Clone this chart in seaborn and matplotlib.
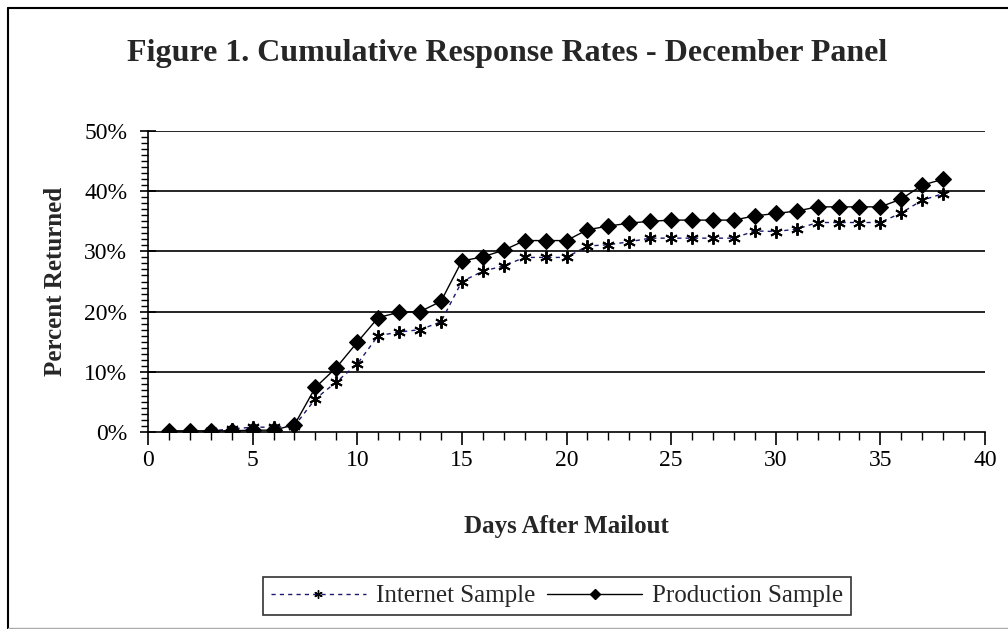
import matplotlib
matplotlib.use("Agg")
import matplotlib.pyplot as plt
import seaborn as sns
from matplotlib.lines import Line2D
from matplotlib.ticker import MultipleLocator, FuncFormatter

days = list(range(1, 39))
internet = [0.0, 0.0, 0.2, 0.5, 0.8, 0.8, 1.0, 5.5, 8.3, 11.3, 16.0, 16.6, 17.0, 18.3,
            25.0, 26.7, 27.6, 29.0, 29.0, 29.0, 30.9, 31.1, 31.6, 32.2, 32.2, 32.2, 32.2, 32.2,
            33.4, 33.3, 33.7, 34.8, 34.8, 34.8, 34.8, 36.4, 38.5, 39.6]
production = [0.2, 0.2, 0.2, 0.2, 0.3, 0.3, 1.2, 7.4, 10.7, 14.9, 19.0, 19.9, 20.0, 21.7,
              28.4, 29.1, 30.2, 31.8, 31.8, 31.8, 33.6, 34.2, 34.7, 35.0, 35.2, 35.2, 35.2, 35.2,
              35.9, 36.3, 36.7, 37.4, 37.4, 37.4, 37.4, 38.7, 41.0, 42.0]

title = "Figure 1. Cumulative Response Rates - December Panel"
xlabel = "Days After Mailout"
ylabel = "Percent Returned"
names = ["Internet Sample", "Production Sample"]

sns.set_style("white")
plt.rcParams["font.family"] = ["Liberation Serif", "DejaVu Serif"]

fig = plt.figure(figsize=(10.08, 6.29), dpi=100)
ax = fig.add_axes([148/1008, 1-432/629, (985-148)/1008, (432-131)/629])

sns.lineplot(x=days, y=internet, ax=ax, color="#1a1a70", linestyle=(0, (3, 3)), linewidth=1.0,
             marker=(6, 2, 0), markersize=9, markeredgecolor="black", markeredgewidth=1.4,
             label=names[0], legend=False)
sns.lineplot(x=days, y=production, ax=ax, color="black", linestyle="-", linewidth=1.0,
             marker="D", markersize=8, markeredgecolor="black", markerfacecolor="black",
             label=names[1], legend=False)

ax.set_xlim(0, 40)
ax.set_ylim(0, 50)
ax.xaxis.set_major_locator(MultipleLocator(5))
ax.xaxis.set_minor_locator(MultipleLocator(1))
ax.yaxis.set_major_locator(MultipleLocator(10))
ax.yaxis.set_minor_locator(MultipleLocator(1))
ax.yaxis.set_major_formatter(FuncFormatter(lambda v, p: f"{v:.0f}%"))

for g in range(10, 51, 10):
    ax.axhline(g, color="black", linewidth=1.2, zorder=0.5)

for s in ["top", "right"]:
    ax.spines[s].set_visible(False)
for s in ["left", "bottom"]:
    ax.spines[s].set_color("black")
    ax.spines[s].set_linewidth(1.2)

ax.tick_params(axis="y", which="both", left=True, right=False)
ax.tick_params(axis="x", which="both", bottom=True, top=False)
ax.tick_params(axis="y", which="major", direction="inout", length=12, width=1.2,
               labelsize=17, pad=9, colors="black")
ax.tick_params(axis="y", which="minor", direction="out", length=5, width=1.0, colors="black")
ax.tick_params(axis="x", which="major", direction="out", length=9, width=1.2,
               labelsize=17, pad=4, colors="black")
ax.tick_params(axis="x", which="minor", direction="out", length=6, width=1.0, colors="black")
ax.grid(False)

ax.set_xlabel(xlabel, fontsize=18, fontweight="bold", labelpad=32)
ax.set_ylabel(ylabel, fontsize=18, fontweight="bold", labelpad=12)

fig.text(0.503, 1-53/629, title, ha="center", va="center", fontsize=23, fontweight="bold")

handles = [
    Line2D([], [], color="#1a1a70", linestyle=(0, (3, 3)), linewidth=1.0, marker=(6, 2, 0),
           markersize=6, markeredgecolor="black", markeredgewidth=1.0),
    Line2D([], [], color="black", linestyle="-", linewidth=1.0, marker="D", markersize=5,
           markerfacecolor="black", markeredgecolor="black"),
]
leg = fig.legend(handles, names, loc="center", bbox_to_anchor=(557/1008, 1-596/629), ncol=2,
                 fontsize=18, frameon=True, fancybox=False, handlelength=3.8, columnspacing=0.5,
                 handletextpad=0.4, borderpad=0.3, edgecolor="black")
leg.get_frame().set_linewidth(1.2)

# outer border
fig.add_artist(Line2D([8/1008, 8/1008], [1-8/629, 0], transform=fig.transFigure, color="black", linewidth=1.5))
fig.add_artist(Line2D([8/1008, 1], [1-8/629, 1-8/629], transform=fig.transFigure, color="black", linewidth=1.5))
fig.add_artist(Line2D([8/1008, 1], [1.5/629, 1.5/629], transform=fig.transFigure, color="#aaaaaa", linewidth=1.0))

fig.savefig("out.png", dpi=100, facecolor="white")
